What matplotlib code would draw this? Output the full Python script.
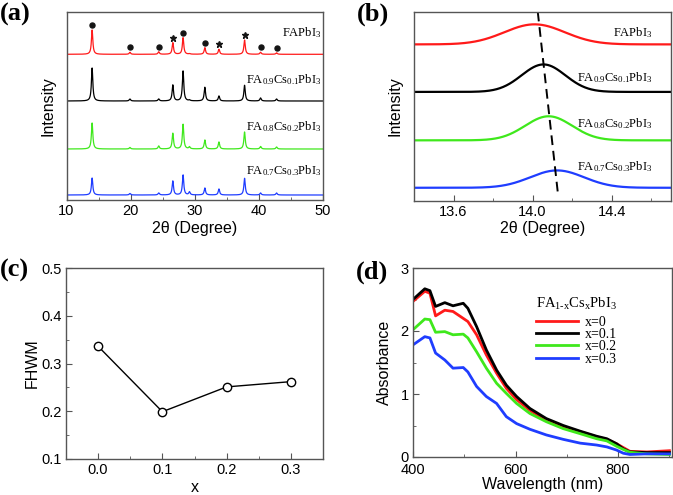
import numpy as np
import matplotlib
matplotlib.use("Agg")
import matplotlib.pyplot as plt
from matplotlib.ticker import MultipleLocator, NullLocator, FormatStrFormatter

plt.rcParams['font.family'] = ['Liberation Sans', 'DejaVu Sans']
plt.rcParams['mathtext.fontset'] = 'custom'
plt.rcParams['mathtext.rm'] = 'Liberation Serif'
plt.rcParams['mathtext.it'] = 'Liberation Serif:italic'

# ---- data ----
samples = ["FAPbI$_3$",
           "FA$_{\\mathrm{0.9}}$Cs$_{\\mathrm{0.1}}$PbI$_3$",
           "FA$_{\\mathrm{0.8}}$Cs$_{\\mathrm{0.2}}$PbI$_3$",
           "FA$_{\\mathrm{0.7}}$Cs$_{\\mathrm{0.3}}$PbI$_3$"]
colors = ["#ff1a1a", "#000000", "#3fe81c", "#1f3dff"]

# (a) XRD peak positions and intensities (arb. units)
xrd_peaks = [14.0, 19.9, 24.4, 26.6, 28.2, 29.2, 31.6, 33.8, 37.8, 40.3, 42.8]
xrd_heights = [
    [24.3, 2.0, 2.5, 11.6, 16.6, 0.5, 6.6, 5.0, 14.3, 2.0, 1.5],
    [33.0, 2.0, 2.0, 16.0, 30.0, 0.8, 13.7, 5.0, 15.7, 3.0, 2.0],
    [26.0, 1.5, 3.0, 15.7, 24.7, 2.0, 9.0, 7.0, 17.0, 2.5, 2.0],
    [17.0, 1.5, 2.0, 14.0, 20.0, 3.0, 7.0, 6.0, 16.7, 2.0, 2.0],
]
xrd_offsets = [145.7, 99.0, 51.0, 5.0]
sphere_peaks = [14.0, 19.9, 24.4, 28.2, 31.6, 40.3, 42.8]
star_peaks = [26.6, 33.8, 37.8]

# (b) Gaussian fits of the (001) peak
fit_centers = [14.01, 14.055, 14.081, 14.124]
fit_heights = [20.0, 27.4, 24.0, 17.3]
fit_fwhm = [0.36, 0.26, 0.28, 0.32]
fit_offsets = [155.7, 108.3, 60.0, 12.7]
shift_x = [14.026, 14.13]
shift_y = [188.3, 3.3]

# (c) FWHM vs x
x_cs = [0.0, 0.1, 0.2, 0.3]
fwhm = [0.336, 0.199, 0.251, 0.262]

# (d) absorbance
wl = [400, 423, 433, 444, 462, 478, 498, 507, 524, 543, 563, 582, 602, 628,
      660, 693, 726, 758, 778, 797, 810, 823, 856, 900]
abs_x0 = [2.47, 2.63, 2.60, 2.24, 2.33, 2.31, 2.20, 2.15, 1.94, 1.62, 1.33, 1.09,
          0.91, 0.74, 0.58, 0.48, 0.40, 0.32, 0.28, 0.21, 0.15, 0.09, 0.08, 0.10]
abs_x1 = [2.50, 2.67, 2.64, 2.39, 2.45, 2.40, 2.44, 2.36, 2.07, 1.70, 1.38, 1.14,
          0.96, 0.77, 0.61, 0.50, 0.41, 0.33, 0.29, 0.21, 0.13, 0.08, 0.07, 0.07]
abs_x2 = [2.02, 2.19, 2.18, 1.98, 1.99, 1.94, 1.95, 1.89, 1.67, 1.41, 1.17, 1.01,
          0.85, 0.69, 0.56, 0.45, 0.37, 0.29, 0.255, 0.17, 0.12, 0.075, 0.05, 0.04]
abs_x3 = [1.78, 1.91, 1.89, 1.65, 1.54, 1.41, 1.42, 1.35, 1.12, 0.96, 0.85, 0.64,
          0.53, 0.44, 0.35, 0.28, 0.22, 0.19, 0.16, 0.11, 0.06, 0.04, 0.05, 0.05]
abs_labels = ["x=0", "x=0.1", "x=0.2", "x=0.3"]

W, H = 673, 495
fig = plt.figure(figsize=(W / 100, H / 100), dpi=100)


def px_axes(l, r, t, b):
    return fig.add_axes([l / W, 1 - b / H, (r - l) / W, (b - t) / H])


def style(ax):
    for s in ax.spines.values():
        s.set_color("#555555")
        s.set_linewidth(1.0)
    ax.tick_params(which="both", direction="in", top=False, right=False,
                   labelsize=10.5, color="#555555", pad=3)
    ax.tick_params(which="major", length=4)
    ax.tick_params(which="minor", length=2.5)


serif = dict(family="Liberation Serif", fontsize=9)

# ---- (a) ----
ax = px_axes(66.5, 322.7, 12, 200)
tt = np.linspace(10, 50, 4000)
for k in range(4):
    y = np.full_like(tt, xrd_offsets[k])
    for p, h in zip(xrd_peaks, xrd_heights[k]):
        y += h / (1 + ((tt - p) / 0.13) ** 2)
    ax.plot(tt, y, color=colors[k], lw=0.9)
red_h = dict(zip(xrd_peaks, xrd_heights[0]))
ax.plot(sphere_peaks, [xrd_offsets[0] + red_h[p] + 5 for p in sphere_peaks],
        "o", ms=3.6, mfc="#151515", mec="#151515")
ax.plot(star_peaks, [xrd_offsets[0] + red_h[p] + 5 for p in star_peaks],
        "*", ms=4.8, color="#151515")
ax.set_xlim(10, 50)
ax.set_ylim(0, 188)
ax.xaxis.set_major_locator(MultipleLocator(10))
ax.xaxis.set_minor_locator(MultipleLocator(5))
ax.yaxis.set_major_locator(NullLocator())
style(ax)
ax.set_xlabel("2θ (Degree)", fontsize=11.5, labelpad=2)
ax.set_ylabel("Intensity", fontsize=11.5, labelpad=8)
for k, yy in enumerate([167, 120, 73, 29]):
    ax.text(49.8, yy, samples[k], ha="right", va="center", **serif)

# ---- (b) ----
ax = px_axes(414, 671, 12, 200.5)
tb = np.linspace(13.4, 14.7, 800)
for k in range(4):
    sig = fit_fwhm[k] / 2.3548
    y = fit_offsets[k] + fit_heights[k] * np.exp(-0.5 * ((tb - fit_centers[k]) / sig) ** 2)
    ax.plot(tb, y, color=colors[k], lw=1.6)
ax.plot(shift_x, shift_y, color="black", lw=1.4, ls=(0, (5, 3)))
ax.set_xlim(13.4, 14.7)
ax.set_ylim(0, 188)
ax.xaxis.set_major_locator(MultipleLocator(0.4))
ax.xaxis.set_minor_locator(MultipleLocator(0.2))
ax.yaxis.set_major_locator(NullLocator())
style(ax)
ax.set_xlabel("2θ (Degree)", fontsize=11.5, labelpad=2)
ax.set_ylabel("Intensity", fontsize=11.5, labelpad=8)
for k, yy in enumerate([167, 123, 77, 34]):
    ax.text(14.605, yy, samples[k], ha="right", va="center", **serif)

# ---- (c) ----
ax = px_axes(66, 323, 268, 459)
ax.plot(x_cs, fwhm, color="black", lw=1.0, marker="o", ms=6, mfc="white",
        mec="black", mew=1.0)
ax.set_xlim(-0.05, 0.35)
ax.set_ylim(0.1, 0.5)
ax.xaxis.set_major_locator(MultipleLocator(0.1))
ax.xaxis.set_minor_locator(MultipleLocator(0.05))
ax.yaxis.set_major_locator(MultipleLocator(0.1))
ax.yaxis.set_minor_locator(MultipleLocator(0.05))
ax.xaxis.set_major_formatter(FormatStrFormatter("%.1f"))
ax.yaxis.set_major_formatter(FormatStrFormatter("%.1f"))
style(ax)
ax.set_xlabel("x", fontsize=11.5, labelpad=2)
ax.set_ylabel("FHWM", fontsize=11.5, labelpad=1)

# ---- (d) ----
ax = px_axes(413, 672, 268, 457)
for ys, c, lab in zip([abs_x0, abs_x1, abs_x2, abs_x3], colors, abs_labels):
    ax.plot(wl, ys, color=c, lw=2.0, label=lab)
ax.set_xlim(400, 905)
ax.set_ylim(0, 3)
ax.xaxis.set_major_locator(MultipleLocator(200))
ax.xaxis.set_minor_locator(MultipleLocator(100))
ax.yaxis.set_major_locator(MultipleLocator(1))
ax.yaxis.set_minor_locator(MultipleLocator(0.5))
style(ax)
ax.tick_params(axis="x", pad=4)
ax.set_xlabel("Wavelength (nm)", fontsize=11.5, labelpad=0)
ax.set_ylabel("Absorbance", fontsize=11.5, labelpad=6)
leg = ax.legend(loc="upper left", bbox_to_anchor=(0.475, 0.855), frameon=False,
                prop={"family": "Liberation Serif", "size": 10},
                borderpad=0, handlelength=3.0, handletextpad=0.5,
                labelspacing=-0.05, borderaxespad=0,
                title="FA$_{\\mathrm{1\\text{-}x}}$Cs$_{\\mathrm{x}}$PbI$_3$",
                title_fontproperties={"family": "Liberation Serif", "size": 10.5})
leg._legend_box.align = "left"
leg._legend_box.sep = 3

# panel labels
for lab, x, y in [("(a)", 0, 14), ("(b)", 357, 14), ("(c)", 0, 270), ("(d)", 356, 272)]:
    fig.text(x / W, 1 - y / H, lab, fontsize=19, fontweight="bold",
             family="Liberation Serif", ha="left", va="center")

fig.savefig("out.png", dpi=100)
